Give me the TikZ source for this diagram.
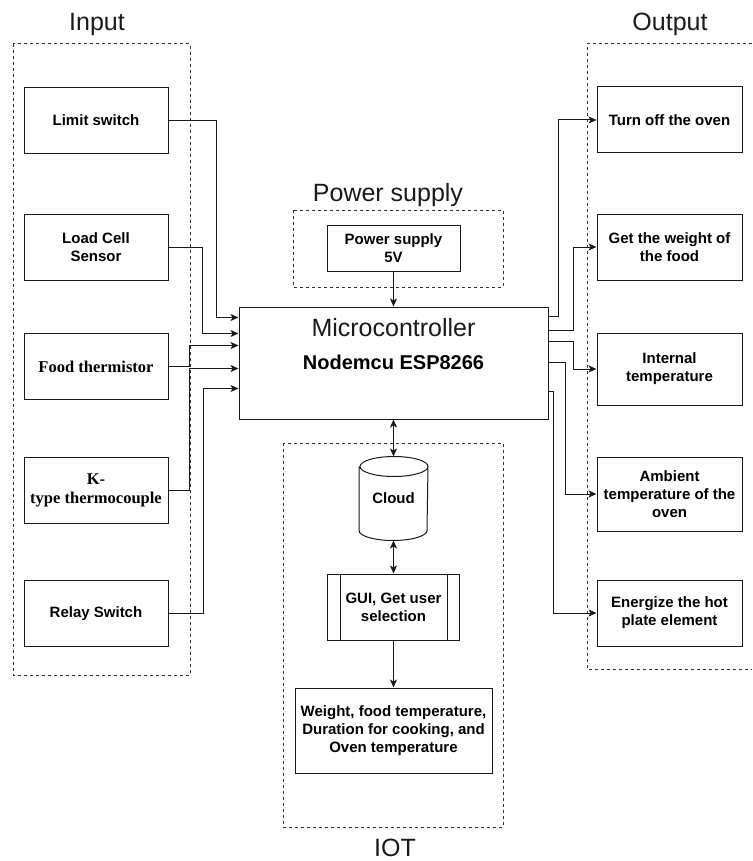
\documentclass[tikz,border=0pt]{standalone}
\usepackage{fontspec}
\setmainfont{Liberation Sans}
\newfontfamily\serifa{Liberation Serif}
\usepackage{tikz}
\usetikzlibrary{arrows.meta,calc,positioning}
\definecolor{linha}{HTML}{1A1A1A}
\definecolor{tracejado}{HTML}{333333}

\begin{document}
\begin{tikzpicture}[
  x=1pt,y=1pt,
  node distance=60pt,
  bloco/.style={draw=linha,line width=1pt,minimum width=144pt,minimum height=66pt,
                align=center,inner sep=2pt,font=\fontsize{15}{18}\selectfont\bfseries},
  serif/.style={font=\serifa\fontsize{16.5}{19}\selectfont\bfseries},
  grupo/.style={draw=tracejado,line width=1pt,dash pattern=on 3pt off 3pt},
  titulo/.style={font=\fontsize{25}{30}\selectfont,text=linha},
  seta/.style={-{Stealth[length=8pt,width=7pt,inset=2pt]},line width=1pt,linha},
  seta2/.style={{Stealth[length=8pt,width=7pt,inset=2pt]}-{Stealth[length=8pt,width=7pt,inset=2pt]},
                line width=1pt,linha}
]
  \useasboundingbox (0,0) rectangle (752,-861);

  \node[bloco] (lim) at (96,-120.5) {Limit switch};
  \node[bloco,below=of lim] (load) {Load Cell\\Sensor};
  \node[bloco,serif,below=52pt of load] (food) {Food thermistor};
  \node[bloco,serif,below=57pt of food] (ktype) {K-\\type thermocouple};
  \node[bloco,below=56pt of ktype] (relay) {Relay Switch};

  \node[bloco,minimum width=145pt] (off) at (669.5,-120) {Turn off the oven};
  \node[bloco,minimum width=145pt,below=of off] (weight) {Get the weight of\\the food};
  \node[bloco,minimum width=145pt,minimum height=72pt,below=52pt of weight] (internal) {Internal\\temperature};
  \node[bloco,minimum width=145pt,minimum height=74pt,below=51pt of internal] (ambient) {Ambient\\temperature of the\\oven};
  \node[bloco,minimum width=145pt,below=48pt of ambient] (energize) {Energize the hot\\plate element};

  \node[bloco,minimum width=309pt,minimum height=112pt] (mcu) at (393.5,-363) {};
  \node[titulo] (mcutit) at ([yshift=-21pt]mcu.north) {Microcontroller};
  \node[font=\fontsize{20}{24}\selectfont\bfseries] (mcusub) at ([yshift=-55.5pt]mcu.north) {Nodemcu ESP8266};

  \node[bloco,minimum width=133pt,minimum height=46pt] (ps) at (393.5,-248) {Power supply\\5V};

  \node[bloco,draw=none,minimum width=68pt,minimum height=83pt] (cloud) at (393.5,-498.5) {Cloud};
  \draw[linha,line width=1pt] ([yshift=-10pt]cloud.north west) -- ([yshift=10pt]cloud.south west)
    arc[start angle=180,end angle=360,x radius=34pt,y radius=10pt] -- ([yshift=-10pt]cloud.north east)
    arc[start angle=0,end angle=180,x radius=34pt,y radius=10pt]
    arc[start angle=180,end angle=360,x radius=34pt,y radius=10pt];
  \node[bloco,minimum width=132pt] (gui) at (393.5,-607) {GUI, Get user\\selection};
  \draw[linha,line width=1pt] ([xshift=13pt]gui.north west) -- ([xshift=13pt]gui.south west)
    ([xshift=-13pt]gui.north east) -- ([xshift=-13pt]gui.south east);
  \node[bloco,minimum width=197pt,minimum height=85pt] (param) at (393.5,-730.5)
    {Weight, food temperature,\\Duration for cooking, and\\Oven temperature};

  \draw[grupo] (13,-44) rectangle (190,-675);
  \draw[grupo] (752,-44) -| (587,-669) -- (752,-669);
  \draw[grupo] (293,-210) rectangle (503,-287);
  \draw[grupo] (283,-443) rectangle (503,-827);
  \node[titulo] (tin) at (97,-24) {Input};
  \node[titulo] (tout) at (670,-24) {Output};
  \node[titulo] (tps) at (388,-195) {Power supply};
  \node[titulo] (tiot) at (395,-848) {IOT};

  \draw[seta] (ps) -- (mcu);
  \draw[seta2] (mcu) -- (cloud);
  \draw[seta2] (cloud) -- (gui);
  \draw[seta] (gui) -- (param);

  \draw[seta] (lim.east) -| ([xshift=-22.5pt,yshift=-11pt]mcu.north west) -- ([yshift=-11pt]mcu.north west);
  \draw[seta] (load.east) -| ([xshift=-36pt,yshift=-27pt]mcu.north west) -- ([yshift=-27pt]mcu.north west);
  \draw[seta] (food.east) -| ([xshift=-49pt,yshift=-39pt]mcu.north west) -- ([yshift=-39pt]mcu.north west);
  \draw[seta] (ktype.east) -| ([xshift=-49pt,yshift=-62pt]mcu.north west) -- ([yshift=-62pt]mcu.north west);
  \draw[seta] (relay.east) -| ([xshift=-35pt,yshift=-82pt]mcu.north west) -- ([yshift=-82pt]mcu.north west);

  \draw[seta] ([yshift=-10pt]mcu.north east) -- ++(10,0) |- (off.west);
  \draw[seta] ([yshift=-24pt]mcu.north east) -- ++(25,0) |- (weight.west);
  \draw[seta] ([yshift=-35pt]mcu.north east) -- ++(25,0) |- (internal.west);
  \draw[seta] ([yshift=-56pt]mcu.north east) -- ++(17,0) |- (ambient.west);
  \draw[seta] ([yshift=-85pt]mcu.north east) -- ++(5,0) |- (energize.west);
\end{tikzpicture}
\end{document}
